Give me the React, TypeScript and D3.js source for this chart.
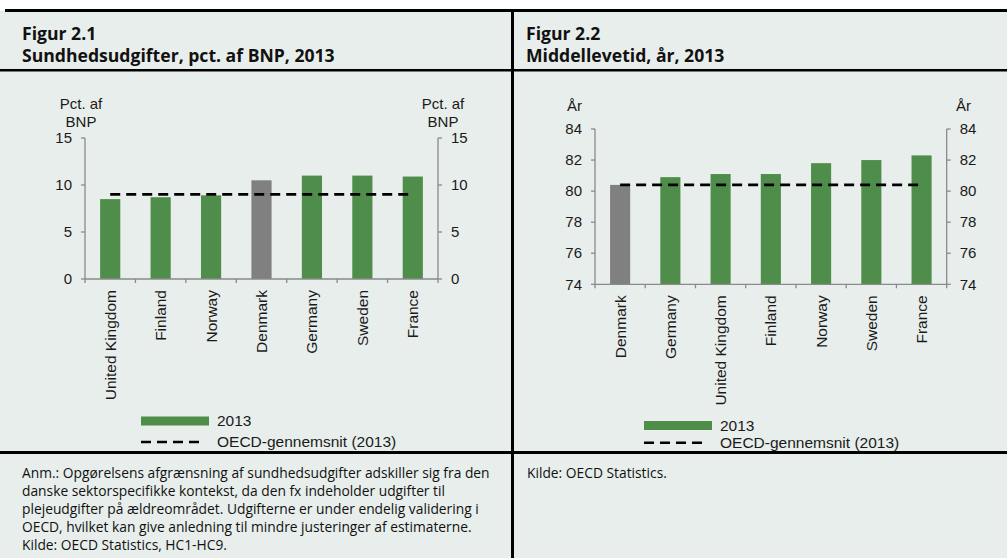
import React from 'react';
import * as d3 from 'd3';

// Figur 2.1 – health spending, pct. of GDP
const healthCountries = ['United Kingdom', 'Finland', 'Norway', 'Denmark', 'Germany', 'Sweden', 'France'];
const healthValues = [8.5, 8.7, 8.9, 10.5, 11.0, 11.0, 10.9];
const healthOecd = 9.0;
const healthTicks = [0, 5, 10, 15];

// Figur 2.2 – life expectancy, years
const lifeCountries = ['Denmark', 'Germany', 'United Kingdom', 'Finland', 'Norway', 'Sweden', 'France'];
const lifeValues = [80.4, 80.9, 81.1, 81.1, 81.8, 82.0, 82.3];
const lifeOecd = 80.4;
const lifeTicks = [74, 76, 78, 80, 82, 84];

const legendLabels = ['2013', 'OECD-gennemsnit (2013)'];

const GREEN = '#4F8E4A';
const GRAY = '#808080';
const AXIS = '#8a8a8a';
const BG = '#E8EEEB';
const TXT = '#1a1a1a';
const ARIAL = '"Liberation Sans", Arial, sans-serif';
const CALIBRI = '"Open Sans", Lato, sans-serif';

type PanelProps = {
  left: number;
  right: number;
  top: number;
  bottom: number;
  domain: [number, number];
  ticks: number[];
  countries: string[];
  values: number[];
  oecd: number;
  unit: string[];
  unitY: number;
  unitLeftX: number;
  unitRightX: number;
  unitAnchor: 'middle' | 'end';
  legendX: number;
  legendY: number;
  legendGap: number;
};

const Panel = (p: PanelProps) => {
  const x = d3.scaleBand<string>().domain(p.countries).range([p.left, p.right]).paddingInner(0.6).paddingOuter(0.3);
  const y = d3.scaleLinear().domain(p.domain).range([p.bottom, p.top]);
  const edges = d3.scaleLinear().domain([0, p.countries.length]).range([p.left, p.right]);
  const bw = x.bandwidth();
  const first = p.countries[0];
  const last = p.countries[p.countries.length - 1];
  const dashLine = d3.line<[number, number]>()([
    [x(first)! + bw / 2, y(p.oecd)],
    [x(last)! + bw / 2, y(p.oecd)],
  ]);

  return (
    <g>
      {p.countries.map((c, i) => (
        <rect key={c} x={x(c)} y={y(p.values[i])} width={bw} height={p.bottom - y(p.values[i])}
          fill={c === 'Denmark' ? GRAY : GREEN} />
      ))}
      <path d={dashLine!} stroke="#000" strokeWidth={2.6} strokeDasharray="10,6" fill="none" />

      {/* axes */}
      <g stroke={AXIS} strokeWidth={1.3} fill="none">
        <line x1={p.left} x2={p.left} y1={p.top} y2={p.bottom} />
        <line x1={p.right} x2={p.right} y1={p.top} y2={p.bottom} />
        <line x1={p.left} x2={p.right} y1={p.bottom} y2={p.bottom} />
        {p.ticks.map(t => (
          <g key={t}>
            <line x1={p.left - 4} x2={p.left} y1={y(t)} y2={y(t)} />
            <line x1={p.right} x2={p.right + 4} y1={y(t)} y2={y(t)} />
          </g>
        ))}
        {d3.range(p.countries.length + 1).map(i => (
          <line key={i} x1={edges(i)} x2={edges(i)} y1={p.bottom} y2={p.bottom + 4} />
        ))}
      </g>

      <g fontFamily={ARIAL} fontSize={15} fill={TXT}>
        {p.ticks.map(t => (
          <g key={t}>
            <text x={p.left - 13} y={y(t)} dy="0.35em" textAnchor="end">{t}</text>
            <text x={p.right + 13} y={y(t)} dy="0.35em">{t}</text>
          </g>
        ))}
        {p.unit.map((u, i) => (
          <g key={u}>
            <text x={p.unitLeftX} y={p.unitY + i * 18} textAnchor={p.unitAnchor}>{u}</text>
            <text x={p.unitRightX} y={p.unitY + i * 18}
              textAnchor={p.unitAnchor === 'end' ? 'start' : p.unitAnchor}>{u}</text>
          </g>
        ))}
        {p.countries.map(c => (
          <text key={c} transform={`translate(${x(c)! + bw / 2},${p.bottom + 11}) rotate(-90)`}
            dy="0.35em" textAnchor="end" fontSize={15.5}>{c}</text>
        ))}
      </g>

      {/* legend */}
      <g fontFamily={ARIAL} fontSize={15.5} fill={TXT}>
        <rect x={p.legendX} y={p.legendY - 4.5} width={68} height={9} fill={GREEN} />
        <text x={p.legendX + 76} y={p.legendY} dy="0.35em">{legendLabels[0]}</text>
        <line x1={p.legendX} x2={p.legendX + 63} y1={p.legendY + p.legendGap} y2={p.legendY + p.legendGap}
          stroke="#000" strokeWidth={2.6} strokeDasharray="10,6" />
        <text x={p.legendX + 76} y={p.legendY + p.legendGap} dy="0.35em">{legendLabels[1]}</text>
      </g>
    </g>
  );
};

const footLeft = [
  'Anm.: Opgørelsens afgrænsning af sundhedsudgifter adskiller sig fra den',
  'danske sektorspecifikke kontekst, da den fx indeholder udgifter til',
  'plejeudgifter på ældreområdet. Udgifterne er under endelig validering i',
  'OECD, hvilket kan give anledning til mindre justeringer af estimaterne.',
  'Kilde: OECD Statistics, HC1-HC9.',
];

const App = () => {
  return (
    <svg width={1007} height={558} style={{ position: 'absolute', left: 0, top: 0 }}>
      <rect x={0} y={0} width={1007} height={558} fill="#fff" />
      <rect x={0} y={11} width={1007} height={547} fill={BG} />

      {/* chart panels (drawn before frame lines so the footer line covers overflow) */}
      <Panel left={85} right={438} top={138} bottom={279} domain={[0, 15]} ticks={healthTicks}
        countries={healthCountries} values={healthValues} oecd={healthOecd}
        unit={['Pct. af', 'BNP']} unitY={108.5} unitLeftX={81} unitRightX={443} unitAnchor="middle"
        legendX={141} legendY={421} legendGap={21} />

      <Panel left={595} right={946.7} top={129} bottom={284.3} domain={[74, 84]} ticks={lifeTicks}
        countries={lifeCountries} values={lifeValues} oecd={lifeOecd}
        unit={['År']} unitY={110.5} unitLeftX={582} unitRightX={956} unitAnchor="end"
        legendX={644} legendY={425.5} legendGap={17.2} />

      {/* frame lines */}
      <rect x={5} y={9} width={1002} height={3} fill="#000" />
      <rect x={0} y={69} width={1007} height={2.5} fill="#000" />
      <rect x={0} y={451} width={1007} height={3} fill="#000" />
      <rect x={511} y={9} width={3} height={549} fill="#000" />

      {/* titles */}
      <g fontFamily={CALIBRI} fontWeight="bold" fontSize={17.6} fill="#111">
        <text x={22} y={39.5}>Figur 2.1</text>
        <text x={22} y={62}>Sundhedsudgifter, pct. af BNP, 2013</text>
        <text x={526} y={39.5}>Figur 2.2</text>
        <text x={526} y={62}>Middellevetid, år, 2013</text>
      </g>

      {/* notes */}
      <g fontFamily={CALIBRI} fontSize={13.8} fill="#111">
        {footLeft.map((l, i) => (
          <text key={i} x={22} y={477.5 + i * 18}>{l}</text>
        ))}
        <text x={527} y={477.5}>Kilde: OECD Statistics.</text>
      </g>
    </svg>
  );
};

export default App;
